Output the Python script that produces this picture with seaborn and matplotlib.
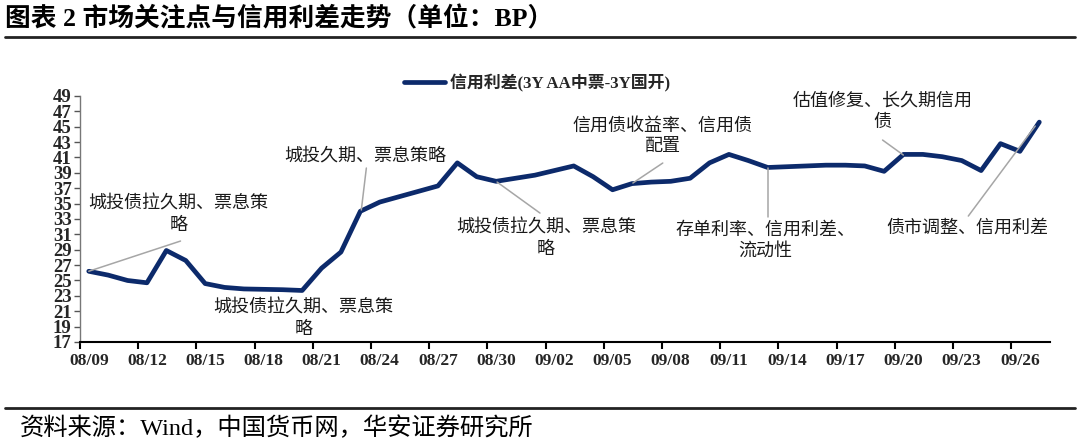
import matplotlib
matplotlib.use("Agg")
import matplotlib.pyplot as plt
from matplotlib.lines import Line2D
import numpy as np
import pandas as pd
import seaborn as sns

# daily credit spread (BP), 3Y AA MTN - 3Y CDB, starting 2023-08-09
spread = [26.2, 25.7, 25.0, 24.7, 28.9, 27.6, 24.6, 24.1, 23.9, 23.85,
          23.8, 23.7, 26.6, 28.7, 34.0, 35.2, 35.9, 36.6, 37.3, 40.3,
          38.5, 37.9, 38.3, 38.7, 39.3, 39.9, 38.5, 36.8, 37.6, 37.8,
          37.9, 38.3, 40.3, 41.4, 40.6, 39.7, 39.8, 39.9, 40.0, 40.0,
          39.9, 39.2, 41.4, 41.4, 41.1, 40.6, 39.3, 42.8, 41.8, 45.6]
start_date = "2023-08-09"
tick_labels = ["08/09", "08/12", "08/15", "08/18", "08/21", "08/24", "08/27",
               "08/30", "09/02", "09/05", "09/08", "09/11", "09/14", "09/17",
               "09/20", "09/23", "09/26"]
y_ticks = list(range(17, 50, 2))
series_name = "信用利差(3Y AA中票-3Y国开)"

notes = [
    "城投债拉久期、票息策\n略",
    "城投债拉久期、票息策\n略",
    "城投久期、票息策略",
    "城投债拉久期、票息策\n略",
    "信用债收益率、信用债\n配置",
    "存单利率、信用利差、\n流动性",
    "估值修复、长久期信用\n债",
    "债市调整、信用利差",
]

df = pd.DataFrame({"date": pd.date_range(start_date, periods=len(spread)),
                   "spread": spread})
df["day"] = (df["date"] - df["date"].iloc[0]).dt.days

sns.set_theme(style="white")
cjk = ["Noto Sans CJK SC", "DejaVu Sans"]
mixed = ["Liberation Serif", "Noto Sans CJK SC"]
plt.rcParams["font.family"] = cjk
plt.rcParams["axes.unicode_minus"] = False

fig = plt.figure(figsize=(10.8, 4.45), dpi=100)
ax = fig.add_axes([0.0741, 0.2315, 0.8981, 0.5528])

navy = "#0C2A6B"
sns.lineplot(data=df, x="day", y="spread", ax=ax, color=navy, lw=3.4,
             label=series_name, solid_capstyle="round",
             solid_joinstyle="round")

ax.set_xlim(-0.45, 49.55)
ax.set_ylim(17, 49)
ax.set_yticks(y_ticks)
ax.set_yticklabels([str(v) for v in y_ticks], fontfamily="Liberation Serif",
                   fontweight="bold", fontsize=13.5)
ax.set_xticks(np.arange(len(tick_labels)) * 3)
ax.set_xticklabels(tick_labels, fontfamily="Liberation Serif",
                   fontweight="bold", fontsize=12.5)
ax.set_xticks(np.arange(len(tick_labels)) * 3 - 0.45, minor=True)
ax.tick_params(axis="x", which="major", length=0, pad=8)
ax.tick_params(axis="x", which="minor", length=5, width=1.5, color="black",
               direction="out", bottom=True)
ax.tick_params(axis="y", length=4, width=1, color="#555555", direction="out",
               left=True, pad=2)
ax.set_xlabel("")
ax.set_ylabel("")
for side in ["top", "right"]:
    ax.spines[side].set_visible(False)
ax.spines["bottom"].set_color("black")
ax.spines["bottom"].set_linewidth(1.5)
ax.spines["left"].set_color("#777777")
ax.spines["left"].set_linewidth(1)

leg = ax.legend(loc="center", bbox_to_anchor=(0.471, 1.053), frameon=False,
                handlelength=2.4, handletextpad=0.3,
                prop={"family": mixed, "weight": "bold", "size": 12.2})

grey = "#A6A6A6"
note_fs = 13
# (text position, leader line start, leader line end) in data units
placements = [
    ((4.63, 33.65), (0.0, 26.2), (4.73, 30.13)),
    ((11.07, 20.12), None, None),
    ((14.26, 41.32), (14.31, 39.63), (14.05, 34.17)),
    ((23.57, 30.52), (21.05, 37.8), (23.26, 33.77)),
    ((29.59, 43.79), (28.05, 37.68), (29.59, 40.28)),
    ((34.89, 30.26), (35.0, 39.63), (35.0, 33.25)),
    ((40.92, 47.04), (40.92, 43.27), (41.99, 41.32)),
    ((45.29, 31.82), (45.34, 33.38), (48.79, 45.09)),
]
for txt, (pos, p0, p1) in zip(notes, placements):
    ax.text(pos[0], pos[1], txt, ha="center", va="center", fontsize=note_fs,
            color="#1a1a1a", linespacing=1.25, clip_on=False)
    if p0 is not None:
        ax.plot([p0[0], p1[0]], [p0[1], p1[1]], color=grey, lw=1.1,
                zorder=4)

fig.text(0.005, 0.958, "图表 2 市场关注点与信用利差走势（单位：BP）",
         fontsize=18.5, fontweight="bold", family=mixed, ha="left",
         va="center", color="black")
fig.add_artist(Line2D([0.005, 0.995], [0.917, 0.917], color="#222222",
                      lw=2))
fig.add_artist(Line2D([0.005, 0.995], [0.083, 0.083], color="#222222",
                      lw=2))
fig.text(0.018, 0.038, "资料来源：Wind，中国货币网，华安证券研究所",
         fontsize=17.5, family=mixed, ha="left", va="center", color="black")

fig.savefig("out.png", dpi=100)
